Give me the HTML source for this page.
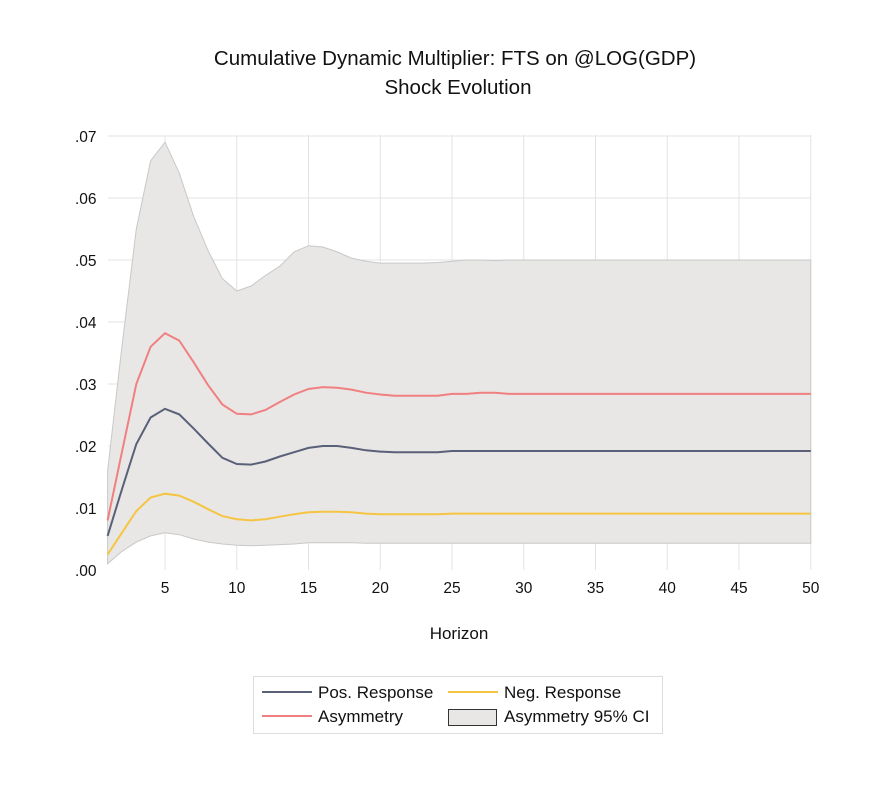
<!DOCTYPE html>
<html><head><meta charset="utf-8"><style>
body{margin:0;background:#fff;font-family:"Liberation Sans",sans-serif;}
svg text{font-family:"Liberation Sans",sans-serif;fill:#111;}
</style></head><body>
<svg id="s" width="870" height="780" xmlns="http://www.w3.org/2000/svg">
<text x="455" y="65" font-size="20.5" text-anchor="middle">Cumulative Dynamic Multiplier: FTS on @LOG(GDP)</text>
<text x="458" y="94" font-size="20.5" text-anchor="middle">Shock Evolution</text>
<g id="grid" stroke="#e3e3e3" stroke-width="1"></g>
<g id="series"></g>
<g font-size="15.5" id="ylab"></g>
<g font-size="15.5" id="xlab" text-anchor="middle"></g>
<text x="459" y="639" font-size="17" text-anchor="middle">Horizon</text>
<rect x="253.5" y="676.5" width="409" height="57" fill="#fff" stroke="#ddd"/>
<line x1="262" y1="692" x2="312" y2="692" stroke="#5a6078" stroke-width="2"/>
<text x="318" y="698" font-size="17">Pos. Response</text>
<line x1="448" y1="692" x2="498" y2="692" stroke="#f5c542" stroke-width="2"/>
<text x="504" y="698" font-size="17">Neg. Response</text>
<line x1="262" y1="716" x2="312" y2="716" stroke="#f08080" stroke-width="2"/>
<text x="318" y="722" font-size="17">Asymmetry</text>
<rect x="448.5" y="709.5" width="48" height="16" fill="#e8e7e6" stroke="#333"/>
<text x="504" y="722" font-size="17">Asymmetry 95% CI</text>
</svg>
<script>
function X(t){return 107.6+(t-1)*14.35;}
function Y(v){return 570-6200*v;}
function fill(a,n){while(a.length<n)a.push(a[a.length-1]);return a;}
var up=fill([.016,.036,.055,.066,.069,.064,.057,.0515,.047,.045,.0458,.0475,.049,.0513,.0523,.0521,.0513,.0503,.0498,.0495,.0495,.0495,.0495,.0496,.0498,.05,.05,.0499,.05],50);
var lo=fill([.001,.003,.0045,.0055,.006,.0057,.005,.0045,.0042,.004,.0039,.004,.0041,.0042,.0044,.0044,.0044,.0044,.0043,.0043],50);
var as=fill([.008,.019,.03,.036,.0382,.037,.0335,.0298,.0267,.0252,.0251,.0258,.0271,.0283,.0292,.0295,.0294,.0291,.0286,.0283,.0281,.0281,.0281,.0281,.0284,.0284,.0286,.0286,.0284],50);
var po=fill([.0055,.013,.0203,.0246,.026,.0251,.0228,.0204,.0181,.0171,.017,.0175,.0183,.019,.0197,.02,.02,.0197,.0193,.0191,.019,.019,.019,.019,.0192],50);
var ne=fill([.0025,.006,.0095,.0117,.0123,.012,.011,.0098,.0087,.0082,.008,.0082,.0086,.009,.0093,.0094,.0094,.0093,.0091,.009,.009,.009,.009,.009,.0091],50);
var NS="http://www.w3.org/2000/svg";
function el(p,tag,at){var e=document.createElementNS(NS,tag);for(var k in at)e.setAttribute(k,at[k]);p.appendChild(e);return e;}
var g=document.getElementById('grid');
for(var i=1;i<=7;i++){el(g,'line',{x1:108,x2:811,y1:Y(i/100),y2:Y(i/100)});}
for(var t=5;t<=50;t+=5){el(g,'line',{x1:X(t),x2:X(t),y1:135,y2:570});}
var yl=document.getElementById('ylab');
for(var i=0;i<=7;i++){var e=el(yl,'text',{x:75,y:Y(i/100)+6});e.textContent='.0'+i;}
var xl=document.getElementById('xlab');
for(var t=5;t<=50;t+=5){var e=el(xl,'text',{x:X(t),y:593});e.textContent=t;}
var s=document.getElementById('series');
function pts(a){return a.map(function(v,i){return X(i+1).toFixed(1)+','+Y(v).toFixed(1);});}
el(s,'polygon',{points:pts(up).concat(pts(lo).reverse()).join(' '),fill:'#e8e7e6',stroke:'#c8c8c8','stroke-width':1});
el(s,'polyline',{points:pts(ne).join(' '),fill:'none',stroke:'#f5c542','stroke-width':2});
el(s,'polyline',{points:pts(po).join(' '),fill:'none',stroke:'#5a6078','stroke-width':2});
el(s,'polyline',{points:pts(as).join(' '),fill:'none',stroke:'#f08080','stroke-width':2});
</script>
</body></html>
